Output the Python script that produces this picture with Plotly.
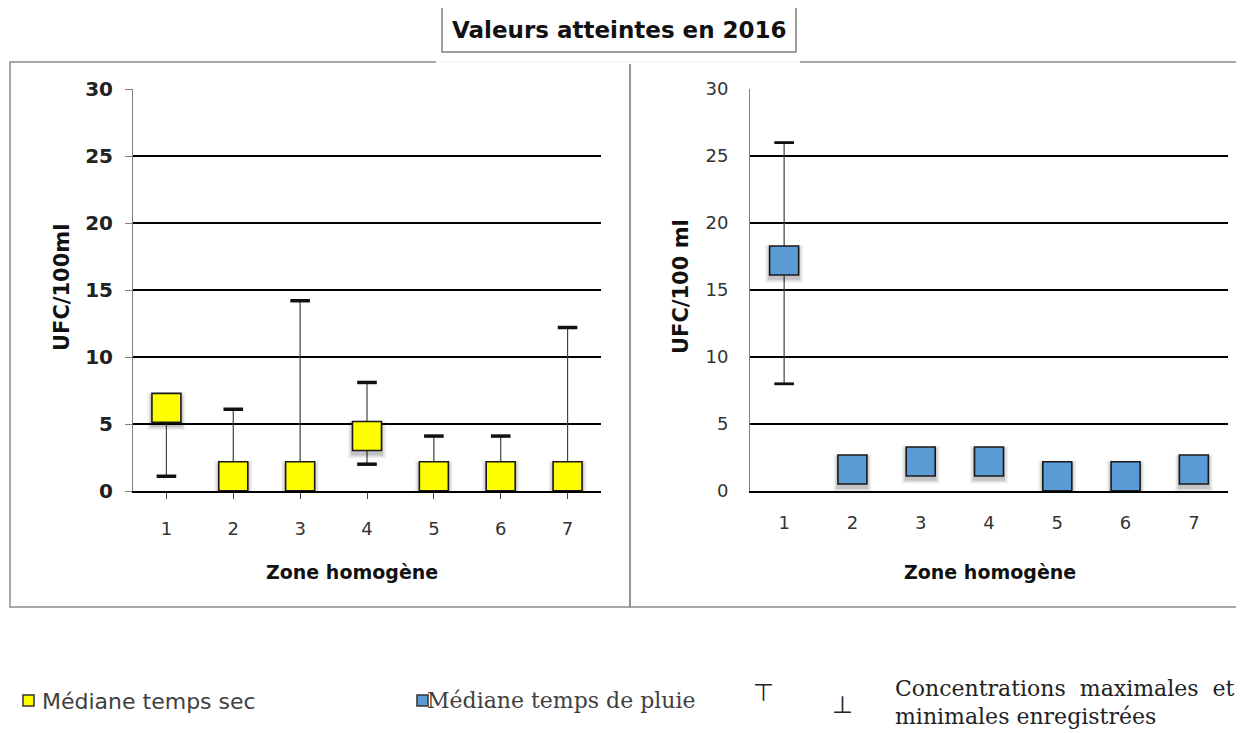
import plotly.graph_objects as go

# page offset (body margin of the html page)
OX, OY = 8, 8
W, H = 1236, 725

zones = ["1", "2", "3", "4", "5", "6", "7"]
sec_median = [6.2, 1.1, 1.1, 4.1, 1.1, 1.1, 1.1]
sec_max = [None, 6.1, 14.2, 8.1, 4.1, 4.1, 12.2]
sec_min = [1.1, None, None, 2.0, None, None, None]
pluie_median = [17.2, 1.6, 2.2, 2.2, 1.1, 1.1, 1.6]
pluie_max = [26.0, None, None, None, None, None, None]
pluie_min = [8.0, None, None, None, None, None, None]
y_ticks = [0, 5, 10, 15, 20, 25, 30]

title_text = "Valeurs atteintes en 2016"
x_title = "Zone homogène"
y_title_left = "UFC/100ml"
y_title_right = "UFC/100 ml"
legend_sec = "Médiane temps sec"
legend_pluie = "Médiane temps de pluie"
legend_caps = ["Concentrations  maximales  et", "minimales enregistrées"]

FONT = "'DejaVu Sans', sans-serif"
SERIF = "'DejaVu Serif', serif"

def px(x):
    return (x - OX) / W

def py(y):
    return 1 - (y - OY) / H

fig = go.Figure()

def add_panel(med, mx, mn, color, xa, ya, cap_w):
    plus = [(m - v) if m is not None else 0 for m, v in zip(mx, med)]
    minus = [(v - n) if n is not None else 0 for n, v in zip(mn, med)]
    fig.add_trace(go.Scatter(
        x=zones, y=med, mode="markers", xaxis=xa, yaxis=ya,
        marker=dict(size=1, color="rgba(0,0,0,0)"),
        error_y=dict(type="data", array=plus, arrayminus=minus, symmetric=False,
                     color="#404040", thickness=1.2, width=0),
        showlegend=False, hoverinfo="skip"))
    cx, cy = [], []
    for z, m, n in zip(zones, mx, mn):
        if m is not None:
            cx.append(z); cy.append(m)
        if n is not None:
            cx.append(z); cy.append(n)
    fig.add_trace(go.Scatter(
        x=cx, y=cy, mode="markers", xaxis=xa, yaxis=ya,
        marker=dict(symbol="line-ew", size=14, line=dict(width=cap_w, color="#111111")),
        showlegend=False, hoverinfo="skip"))
    for s, op in [(38, 0.05), (35, 0.08), (32, 0.12)]:
        fig.add_trace(go.Scatter(
            x=zones, y=[v - 0.25 for v in med], mode="markers", xaxis=xa, yaxis=ya,
            marker=dict(symbol="square", size=s, color=f"rgba(0,0,0,{op})", line=dict(width=0)),
            showlegend=False, hoverinfo="skip"))
    fig.add_trace(go.Scatter(
        x=zones, y=med, mode="markers", xaxis=xa, yaxis=ya,
        marker=dict(symbol="square", size=29, color=color, line=dict(width=1.6, color="#1a1a1a")),
        showlegend=False))

add_panel(sec_median, sec_max, sec_min, "#ffff00", "x", "y", 3.5)
add_panel(pluie_median, pluie_max, pluie_min, "#5b9bd5", "x2", "y2", 2.8)

ydom = [py(491), py(89)]
common_x = dict(type="category", categoryorder="array", categoryarray=zones,
                range=[-0.5, 6.5], showgrid=False, showline=True, linecolor="#000000",
                linewidth=1.5, tickfont=dict(family=FONT, size=18, color="#333333"),
                ticklabelstandoff=15, zeroline=False, fixedrange=True, automargin=False)
fig.update_layout(
    template="none",
    width=W, height=H, margin=dict(l=0, r=0, t=0, b=0, pad=0), autosize=False,
    paper_bgcolor="white", plot_bgcolor="white", showlegend=False,
    xaxis=dict(domain=[px(133), px(601)], anchor="y", ticks="outside", ticklen=6,
               tickcolor="#404040", **common_x),
    yaxis=dict(domain=ydom, anchor="x", range=[0, 30], tickvals=y_ticks,
               showgrid=True, gridcolor="#000000", gridwidth=1.5,
               showline=True, linecolor="#808080", linewidth=1,
               ticks="outside", ticklen=7, tickcolor="#808080",
               ticklabelstandoff=8,
               tickfont=dict(family=FONT, size=20, color="#222222", weight="bold"),
               zeroline=False, fixedrange=True, automargin=False),
    xaxis2=dict(domain=[px(750), px(1228)], anchor="y2", ticks="", **common_x),
    yaxis2=dict(domain=ydom, anchor="x2", range=[0, 30], tickvals=y_ticks,
                showgrid=True, gridcolor="#000000", gridwidth=1.5,
                showline=True, linecolor="#808080", linewidth=1, ticks="",
                ticklabelstandoff=17,
                tickfont=dict(family=FONT, size=18, color="#333333"),
                zeroline=False, fixedrange=True, automargin=False),
)

shapes = []
frame = dict(type="rect", xref="paper", yref="paper", line=dict(color="#8c8c8c", width=1.5),
             fillcolor="rgba(0,0,0,0)", layer="below")
shapes.append(dict(frame, x0=px(10), x1=px(630), y0=py(607), y1=py(62)))
shapes.append(dict(frame, x0=px(630), x1=px(1250), y0=py(607), y1=py(62)))
shapes.append(dict(type="rect", xref="paper", yref="paper", x0=px(436), x1=px(800),
                   y0=py(64), y1=py(56), fillcolor="white", line=dict(width=0), layer="below"))
shapes.append(dict(type="line", xref="paper", yref="paper", x0=px(436), x1=px(800),
                   y0=py(62), y1=py(62), line=dict(color="#eeeeee", width=1), layer="below"))
shapes.append(dict(type="rect", xref="paper", yref="paper", x0=px(442), x1=px(796),
                   y0=py(52), y1=py(7), fillcolor="white", line=dict(color="#808080", width=1.5)))
for x0, col in [(23, "#ffff00"), (417, "#5b9bd5")]:
    shapes.append(dict(type="rect", xref="paper", yref="paper", x0=px(x0), x1=px(x0 + 11),
                       y0=py(706), y1=py(695), fillcolor=col, line=dict(color="#333333", width=1.5)))
fig.update_layout(shapes=shapes)

def note(text, x, y, size, family=FONT, color="#111111", bold=False, angle=0, xanchor="center"):
    return dict(text=text, x=px(x), y=py(y), xref="paper", yref="paper", showarrow=False,
                xanchor=xanchor, yanchor="middle", textangle=angle,
                font=dict(family=family, size=size, color=color, weight="bold" if bold else "normal"))

ann = [
    note(title_text, 619, 30, 23, bold=True),
    note(y_title_left, 62, 288, 21, bold=True, angle=-90),
    note(y_title_right, 681, 287, 21, bold=True, angle=-90),
    note(x_title, 352, 572, 19, bold=True),
    note(x_title, 990, 572, 19, bold=True),
    note(legend_sec, 40, 701, 22, color="#404040", xanchor="left"),
    note(legend_pluie, 425, 700, 22, family=SERIF, color="#404040", xanchor="left"),
    note("⊤", 763, 693, 24, color="#222222"),
    note("⊥", 842, 705, 24, color="#222222"),
    note(legend_caps[0], 893, 688, 22, family=SERIF, color="#222222", xanchor="left"),
    note(legend_caps[1], 893, 716, 22, family=SERIF, color="#222222", xanchor="left"),
]
fig.update_layout(annotations=ann)

fig.write_html("out.html")
